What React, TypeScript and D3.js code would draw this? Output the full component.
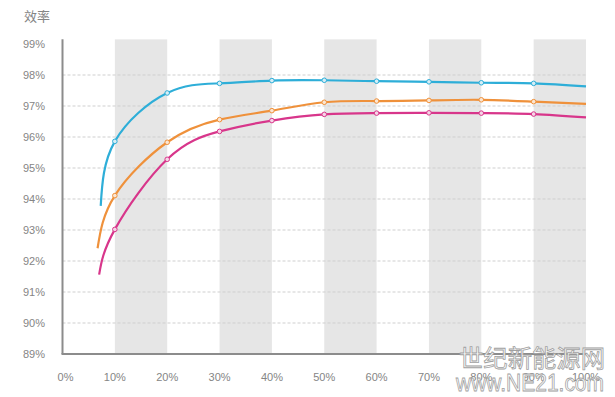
import React from "react";
import * as d3 from "d3";

const xTicks = [0, 10, 20, 30, 40, 50, 60, 70, 80, 90, 100];
const yTicks = [89, 90, 91, 92, 93, 94, 95, 96, 97, 98, 99];
const bands = [10, 30, 50, 70, 90];

const loadBlue = [7.3, 10, 20, 30, 40, 50, 60, 70, 80, 90, 100];
const effBlue = [93.78, 95.86, 97.42, 97.73, 97.82, 97.83, 97.8, 97.78, 97.75, 97.73, 97.63];
const loadOrange = [6.7, 10, 20, 30, 40, 50, 60, 70, 80, 90, 100];
const effOrange = [92.41, 94.11, 95.83, 96.56, 96.85, 97.12, 97.16, 97.18, 97.2, 97.14, 97.07];
const loadMagenta = [7.0, 10, 20, 30, 40, 50, 60, 70, 80, 90, 100];
const effMagenta = [91.56, 93.02, 95.28, 96.18, 96.53, 96.73, 96.77, 96.78, 96.77, 96.74, 96.63];

const series = [
  { name: "blue", color: "#2eaed8", marker: "#d6eef6", xs: loadBlue, ys: effBlue },
  { name: "orange", color: "#ef913b", marker: "#fbe6d2", xs: loadOrange, ys: effOrange },
  { name: "magenta", color: "#d8368b", marker: "#f5d5e6", xs: loadMagenta, ys: effMagenta },
];

export default function App() {
  const W = 615, H = 397;
  const x = d3.scaleLinear().domain([0, 100]).range([62.5, 586]);
  const y = d3.scaleLinear().domain([89, 98]).range([354, 75]);
  const yTop = y(99.15);
  const line = d3
    .line<[number, number]>()
    .x((d) => x(d[0]))
    .y((d) => y(d[1]))
    .curve(d3.curveNatural);
  const font = "'Liberation Sans', Arial, sans-serif";
  return (
    <svg width={W} height={H} style={{ position: "absolute", left: 0, top: 0, background: "#fff" }}>
      <rect x={0} y={0} width={W} height={H} fill="#fff" />
      {bands.map((b) => (
        <rect key={b} x={x(b)} y={yTop} width={x(b + 10) - x(b)} height={y(89) - yTop} fill="#e6e6e6" />
      ))}
      {yTicks.filter((t) => t > 89 && t < 99).map((t) => (
        <line key={t} x1={x(0)} x2={x(100)} y1={y(t)} y2={y(t)} stroke="#cfcfcf" strokeWidth={1} strokeDasharray="3,2" />
      ))}
      {yTicks.map((t) => (
        <text key={t} x={45} y={y(t) + 4} textAnchor="end" fontFamily={font} fontSize={11} fill="#858585">
          {t}%
        </text>
      ))}
      {xTicks.map((t) => (
        <text key={t} x={x(t) + (t === 0 ? 3 : 0)} y={381} textAnchor="middle" fontFamily={font} fontSize={11} fill="#858585">
          {t}%
        </text>
      ))}
      <text x={24} y={21} fontFamily="'Noto Sans CJK SC', sans-serif" fontSize={13} fill="#858585">效率</text>
      <line x1={x(0)} x2={x(0)} y1={yTop} y2={y(89)} stroke="#8c8c8c" strokeWidth={2} />
      <line x1={x(0) - 1} x2={x(100)} y1={y(89)} y2={y(89)} stroke="#8c8c8c" strokeWidth={2} />
      {series.map((s) => {
        const pts = s.xs.map((v, i) => [v, s.ys[i]] as [number, number]);
        return (
          <g key={s.name}>
            <path d={line(pts) || ""} fill="none" stroke={s.color} strokeWidth={2.2} />
            {pts
              .filter((p) => p[0] >= 10 && p[0] <= 90)
              .map((p, i) => (
                <circle key={i} cx={x(p[0])} cy={y(p[1])} r={2.3} fill={s.marker} stroke={s.color} strokeWidth={1} />
              ))}
          </g>
        );
      })}
      <g fontFamily="'Noto Sans CJK SC', sans-serif" fill="#ffffff" stroke="#a0a0a0" strokeWidth={0.8}>
        <text x={459} y={367} fontSize={24} textLength={146} lengthAdjust="spacingAndGlyphs">世纪新能源网</text>
        <text x={456} y={391} fontFamily={font} fontSize={23} textLength={148} lengthAdjust="spacingAndGlyphs">www.NE21.com</text>
      </g>
    </svg>
  );
}
